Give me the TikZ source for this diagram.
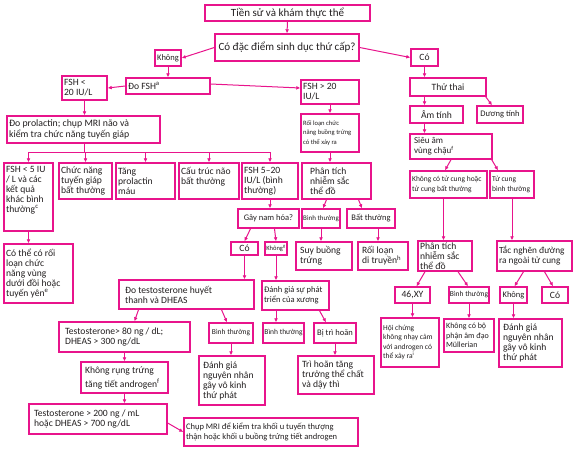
\documentclass[tikz,border=0pt]{standalone}
\usepackage{fontspec}
\setmainfont{Carlito}
\usetikzlibrary{arrows.meta}
\definecolor{pk}{RGB}{232,20,140}
\definecolor{tx}{RGB}{35,31,32}
\newcommand\fBig{\fontsize{11}{12}\selectfont}
\newcommand\fMed{\fontsize{9.6}{10}\selectfont}
\newcommand\fMid{\fontsize{8.5}{9.5}\selectfont}
\newcommand\fSm{\fontsize{7.5}{9.5}\selectfont}
\tikzset{
  box/.style={draw=pk,line width=1.4pt,fill=white,text=tx,inner xsep=0pt,inner ysep=1pt,align=center,font=\fMed},
  txt/.style={text=tx,inner sep=0pt,align=left,font=\fMed},
  ar/.style={draw=pk,line width=1pt,-{Latex[length=4pt,width=3.8pt]}},
  ln/.style={draw=pk,line width=1pt}
}
% box with left-aligned text
\newcommand\bx[7][]{%
  \pgfmathsetmacro\myW{#5-#3}\pgfmathsetmacro\myH{#6-#4}%
  \node[box,minimum width=\myW pt,minimum height=\myH pt] (#2) at ({(#3+#5)/2},{(#4+#6)/2}) {};
  \node[txt,anchor=west,#1] (#2-t) at ([xshift=2.6pt]#2.west) {#7};}
% box with centred text
\newcommand\sbx[7][]{%
  \pgfmathsetmacro\myW{#5-#3}\pgfmathsetmacro\myH{#6-#4}%
  \node[box,minimum width=\myW pt,minimum height=\myH pt,#1] (#2) at ({(#3+#5)/2},{(#4+#6)/2}) {#7};}
\begin{document}
\begin{tikzpicture}[x=1pt,y=-1pt]
\useasboundingbox[fill=white] (0,0) rectangle (575,451);
% top
\sbx[font=\fBig]{t}{205}{5}{370}{21}{Tiền sử và khám thực thể}
\sbx[font=\fBig]{q}{215}{34}{359}{61}{Có đặc điểm sinh dục thứ cấp?}
\sbx[font=\fMid]{k1}{155}{50}{181}{66}{Không}
\sbx{co1}{411}{49}{438}{66}{Có}
\bx{fsh}{126}{78}{210}{94}{Đo FSH\textsuperscript{a}}
\bx{f20}{62}{76}{107}{100}{FSH <\\20 IU/L}
\bx{fgt}{301}{80}{359}{104}{FSH > 20\\IU/L}
\sbx{tt}{410}{78}{486}{96}{Thử thai}
\sbx{am}{410}{106}{463}{123}{Âm tính}
\sbx[font=\fMid]{dt}{477}{106}{523}{123}{Dương tính}
% left branch
\bx[font=\fontsize{9.8}{11}\selectfont]{dp}{7}{116}{160}{143}{Đo prolactin; chụp MRI não và\\kiểm tra chức năng tuyến giáp}
\bx{c5}{4}{163}{53}{231}{FSH < 5 IU\\/ L và các\\kết quả\\khác bình\\thường\textsuperscript{c}\\[6pt]\mbox{}}
\bx{cn}{59}{163}{112}{199}{Chức năng\\tuyến giáp\\bất thường}
\bx{tp}{116}{163}{175}{199}{Tăng\\prolactin\\máu}
\bx{ct}{179}{163}{239}{199}{Cấu trúc não\\bất thường\\\mbox{}}
\bx{f520}{242}{163}{298}{199}{FSH 5–20\\IU/L (bình\\thường)}
\sbx[font=\fMid]{gnh}{238}{209}{299}{228}{Gây nam hóa?}
\sbx{co2}{231}{242}{258}{255}{Có}
\sbx[font=\fontsize{6.5}{7}\selectfont]{kg}{265}{242}{287}{255}{Không\textsuperscript{g}}
\bx{cothe}{4}{244}{73}{303}{Có thể có rối\\loạn chức\\năng vùng\\dưới đồi hoặc\\tuyến yên\textsuperscript{e}}
\bx{dts}{119}{280}{254}{309}{\hspace{4pt}Đo testosterone huyết\\\hspace{4pt}thanh và DHEAS}
\bx[font=\fMid]{dgx}{262}{281}{329}{310}{Đánh giá sự phát\\triển của xương}
\sbx[font=\fSm]{bt1}{209}{323}{253}{343}{Bình thường}
\sbx[font=\fSm]{bt2}{263}{323}{304}{343}{Bình thường}
\sbx[font=\fMid]{btr}{314}{323}{356}{343}{Bị trì hoãn}
\bx{tg80}{59}{322}{190}{352}{\hspace{4pt}Testosterone> 80 ng / dL;\\\hspace{4pt}DHEAS > 300 ng/dL}
\bx{kr}{81}{362}{168}{393}{\hspace{2pt}Không rụng trứng\\[4pt]\hspace{2pt}tăng tiết androgen\textsuperscript{f}}
\bx{tg200}{29}{404}{167}{434}{\hspace{3pt}Testosterone > 200 ng / mL\\\hspace{3pt}hoặc DHEAS > 700 ng/dL}
\bx{dgn1}{199}{356}{265}{405}{\hspace{2pt}Đánh giá\\\hspace{2pt}nguyên nhân\\\hspace{2pt}gây vô kinh\\\hspace{2pt}thứ phát}
\bx{thtt}{298}{356}{374}{394}{\hspace{2pt}Trì hoãn tăng\\\hspace{2pt}trưởng thể chất\\\hspace{2pt}và dậy thì}
\bx[font=\fMid]{mri}{184}{418}{358}{446}{Chụp MRI để kiểm tra khối u tuyến thượng\\thận hoặc khối u buồng trứng tiết androgen}
% middle-right branch
\bx[font=\fontsize{6.6}{9.5}\selectfont]{rlcn}{301}{114}{359}{152}{Rối loạn chức\\năng buồng trứng\\có thể xảy ra}
\bx{pt1}{302}{163}{371}{199}{\hspace{6pt}Phân tích\\\hspace{6pt}nhiễm sắc\\\hspace{6pt}thể đồ}
\sbx[font=\fontsize{7}{8}\selectfont]{bt3}{302}{209}{340}{228}{Bình thường}
\sbx[font=\fMid]{bbt}{347}{209}{395}{228}{Bất thường}
\bx{sbt}{296}{242}{352}{270}{\hspace{2pt}Suy buồng\\\hspace{2pt}trứng}
\bx{rldt}{358}{242}{408}{270}{\hspace{2pt}Rối loạn\\\hspace{2pt}di truyền\textsuperscript{h}}
% right branch
\bx[font=\fontsize{9}{10}\selectfont]{sa}{410}{134}{492}{159}{\hspace{2pt}Siêu âm\\\hspace{2pt}vùng chậu\textsuperscript{f}}
\bx[font=\fSm]{kctc}{410}{171}{487}{198}{Không có tử cung hoặc\\tử cung bất thường}
\bx[font=\fSm]{tcbt}{490}{171}{534}{198}{Tử cung\\bình thường}
\bx{pt2}{418}{241}{472}{271}{Phân tích\\nhiễm sắc\\thể đồ}
\bx[font=\fontsize{9.3}{10}\selectfont]{tn}{497}{241}{572}{271}{Tắc nghẽn đường\\ra ngoài tử cung}
\sbx{xy}{395}{287}{430}{303}{46,XY}
\sbx[font=\fSm]{bt4}{449}{287}{489}{303}{Bình thường}
\sbx[font=\fMid]{kh3}{500}{287}{527}{303}{Không}
\sbx{co3}{542}{287}{568}{303}{Có}
\bx[font=\fSm]{hc}{381}{318}{439}{367}{Hội chứng\\không nhạy cảm\\với androgen có\\thể xảy ra\textsuperscript{i}}
\bx[font=\fontsize{8}{9.5}\selectfont]{kcbp}{444}{319}{494}{352}{Không có bộ\\phận âm đạo\\Müllerian}
\bx{dgn2}{499}{319}{562}{367}{\hspace{2pt}Đánh giá\\\hspace{2pt}nguyên nhân\\\hspace{2pt}gây vô kinh\\\hspace{2pt}thứ phát}
% connectors
\draw[ar] (t.south) -- (q.north);
\draw[ar] (q.west) -- (k1.east);
\draw[ar] (q.east) -- (co1.west);
\draw[ar] (k1.south) -- (k1.south |- fsh.north);
\draw[ar] (fsh.west) -- (f20.east);
\draw[ar] ([yshift=2]fsh.east) -- ([yshift=4]fgt.west);
\draw[ar] (co1.south) -- (co1.south |- tt.north);
\draw[ar] (co1.south |- tt.south) -- (co1.south |- am.north);
\draw[ar] ([xshift=-1]tt.south east) -- ([xshift=-8]dt.north);
\draw[ar] (f20.south) -- (f20.south |- dp.north);
\coordinate (bus) at (0,152);
\draw[ln] (dp.south -| f20.south) -- (f20.south |- bus);
\draw[ln] (c5.north |- bus) -- (f520.north |- bus);
\foreach \n in {c5,cn,tp,ct,f520} \draw[ar] (\n.north |- bus) -- (\n.north);
\draw[ar] (c5.south) -- (c5.south |- cothe.north);
\draw[ar] (f520.south) -- (f520.south |- gnh.north);
\draw[ar] ([xshift=-18]gnh.south) -- (co2.north);
\draw[ar] ([xshift=6]gnh.south) -- (kg.north);
\draw[ar] (co2.south) -- (co2.south |- dts.north);
\draw[ar] (kg.south) -- (kg.south |- dgx.north);
\draw[ar] (dgx.south -| kg.south) -- (bt2.north -| kg.south);
\draw[ar] ([xshift=24]dgx.south) -- ([xshift=-9]btr.north);
\draw[ar] (btr.south) -- (btr.south |- thtt.north);
\draw[ar] ([xshift=-48]dts.south) -- ([xshift=10]tg80.north);
\draw[ar] ([xshift=35]dts.south) -- ([xshift=-4]bt1.north);
\draw[ar] (bt1.south) -- (bt1.south |- dgn1.north);
\draw[ar] (tg80.south) -- (tg80.south |- kr.north);
\draw[ar] (kr.south) -- (kr.south |- tg200.north);
\draw[ar] ([yshift=-4]tg200.east) -- (mri.west);
\draw[ar] (fgt.south) -- (fgt.south |- rlcn.north);
\draw[ar] (rlcn.south) -- (rlcn.south |- pt1.north);
\draw[ar] ([xshift=-10]pt1.south) -- ([xshift=2]bt3.north);
\draw[ar] ([xshift=22]pt1.south) -- ([xshift=-9]bbt.north);
\draw[ar] (bt3.south) -- (bt3.south |- sbt.north);
\draw[ar] ([xshift=7]bbt.south) -- ([xshift=7]bbt.south |- rldt.north);
\draw[ar] (co1.south |- am.south) -- (co1.south |- sa.north);
\draw[ar] (sa.south) -- ([xshift=-3.5]kctc.north);
\draw[ar] ([xshift=-1]sa.south east) -- ([xshift=-14]tcbt.north);
\draw[ar] ([xshift=-5]kctc.south) -- ([xshift=-5]kctc.south |- pt2.north);
\draw[ar] (tcbt.south) -- (tcbt.south |- tn.north);
\draw[ar] ([xshift=-20]pt2.south) -- ([xshift=4]xy.north);
\draw[ar] ([xshift=13]pt2.south) -- ([xshift=-1]bt4.north);
\draw[ar] ([xshift=-11]tn.south) -- ([xshift=1]kh3.north);
\draw[ar] ([xshift=10]tn.south) -- ([xshift=-2]co3.north);
\draw[ar] (xy.south) -- (xy.south |- hc.north);
\draw[ar] (bt4.south) -- (bt4.south |- kcbp.north);
\draw[ar] (kh3.south) -- (kh3.south |- dgn2.north);
\end{tikzpicture}
\end{document}
